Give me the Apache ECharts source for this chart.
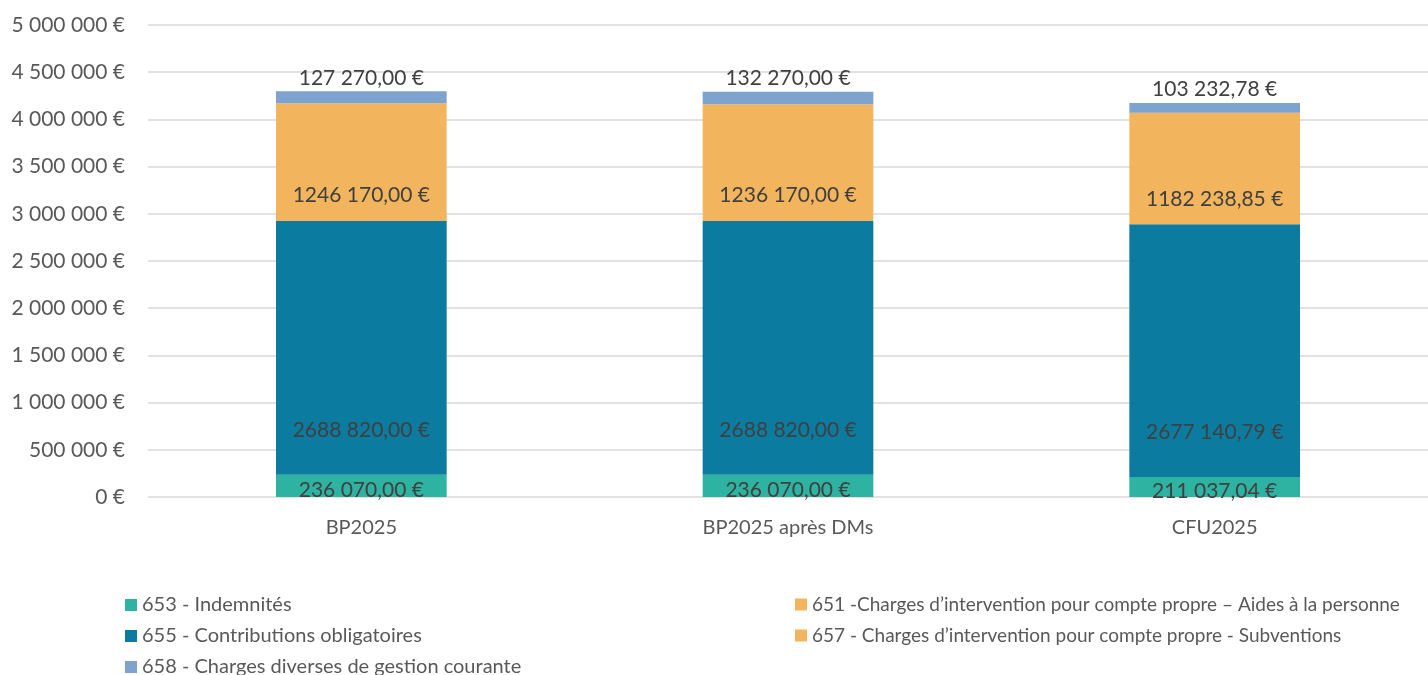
<!DOCTYPE html>
<html>
<head>
<meta charset="utf-8">
<script src="https://cdn.jsdelivr.net/npm/echarts@6/dist/echarts.min.js"></script>
<style>
  html, body { margin: 0; padding: 0; background: #fff; }
  #main { width: 1428px; height: 675px; }
</style>
</head>
<body>
<div id="main"></div>
<script>
var categories = ['BP2025', 'BP2025 après DMs', 'CFU2025'];

var s653 = [236070.00, 236070.00, 211037.04];
var s655 = [2688820.00, 2688820.00, 2677140.79];
var s651 = [0, 0, 0];
var s657 = [1246170.00, 1236170.00, 1182238.85];
var s658 = [127270.00, 132270.00, 103232.78];

var yTicks = [0, 500000, 1000000, 1500000, 2000000, 2500000, 3000000, 3500000, 4000000, 4500000, 5000000];

var names = {
  s653: '653 - Indemnités',
  s655: '655 - Contributions obligatoires',
  s658: '658 - Charges diverses de gestion courante',
  s651: '651 -Charges d’intervention pour compte propre – Aides à la personne',
  s657: '657 - Charges d’intervention pour compte propre - Subventions'
};

var FONT = 'Lato, "Open Sans", sans-serif';

// excel style "# ##0,00 €" : only one thousands separator
function fmtLabel(v) {
  var cents = Math.round(v * 100);
  var ent = Math.floor(cents / 100);
  var dec = String(cents % 100).padStart(2, '0');
  var txt;
  if (ent >= 1000) {
    txt = Math.floor(ent / 1000) + ' ' + String(ent % 1000).padStart(3, '0');
  } else {
    txt = String(ent);
  }
  return txt + ',' + dec + ' €';
}

function fmtAxis(v) {
  return String(v).replace(/\B(?=(\d{3})+(?!\d))/g, ' ') + ' €';
}

// one legend per line, like the excel layout
function legendRow(name, left, centerY, size) {
  return {
    left: left,
    top: centerY - 13,
    itemWidth: 12,
    itemHeight: 12,
    itemGap: 0,
    icon: 'rect',
    textStyle: { color: '#595959', fontSize: size, fontFamily: FONT },
    data: [name]
  };
}

var chart = echarts.init(document.getElementById('main'));

var labelBase = {
  show: true,
  color: '#404040',
  fontFamily: FONT,
  fontSize: 21,
  formatter: function (p) { return fmtLabel(p.value); }
};

var option = {
  animation: false,
  textStyle: { fontFamily: FONT },
  grid: { left: 148, right: 0, top: 25, bottom: 178, containLabel: false },
  legend: [
    legendRow(names.s653, 120, 603, 20),
    legendRow(names.s655, 120, 634, 20),
    legendRow(names.s658, 120, 665, 20),
    legendRow(names.s651, 790, 603, 19),
    legendRow(names.s657, 790, 634, 19)
  ],
  xAxis: {
    type: 'category',
    data: categories,
    axisLine: { show: false },
    axisTick: { show: false },
    axisLabel: { color: '#595959', fontSize: 20, margin: 21, fontFamily: FONT }
  },
  yAxis: {
    type: 'value',
    min: yTicks[0],
    max: yTicks[yTicks.length - 1],
    interval: 500000,
    axisLine: { show: false },
    axisTick: { show: false },
    splitLine: { lineStyle: { color: '#d9d9d9', width: 1.5 } },
    axisLabel: { color: '#595959', fontSize: 21, margin: 23, fontFamily: FONT, formatter: fmtAxis }
  },
  series: [
    {
      name: names.s653,
      type: 'bar',
      stack: 'total',
      barWidth: '40%',
      itemStyle: { color: '#2EB2A1' },
      label: Object.assign({}, labelBase, { position: 'inside', offset: [0, 4] }),
      data: s653
    },
    {
      name: names.s655,
      type: 'bar',
      stack: 'total',
      itemStyle: { color: '#0B7BA0' },
      label: Object.assign({}, labelBase, { position: 'insideBottom', distance: 34 }),
      data: s655
    },
    {
      name: names.s651,
      type: 'bar',
      stack: 'total',
      itemStyle: { color: '#F2B55E' },
      label: { show: false },
      data: s651
    },
    {
      name: names.s657,
      type: 'bar',
      stack: 'total',
      itemStyle: { color: '#F2B55E' },
      label: Object.assign({}, labelBase, { position: 'insideBottom', distance: 15 }),
      data: s657
    },
    {
      name: names.s658,
      type: 'bar',
      stack: 'total',
      itemStyle: { color: '#7FA3CF' },
      label: Object.assign({}, labelBase, { position: 'top', distance: 3 }),
      data: s658
    }
  ]
};

chart.setOption(option);
</script>
</body>
</html>
